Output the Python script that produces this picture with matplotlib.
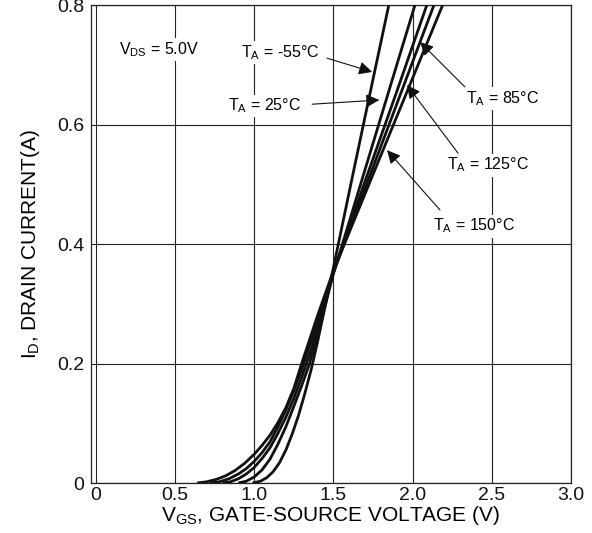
import matplotlib
matplotlib.use('Agg')
from matplotlib import pyplot as plt

plt.rcParams['font.family'] = ['Liberation Sans', 'DejaVu Sans']
plt.rcParams['mathtext.fontset'] = 'custom'
plt.rcParams['mathtext.rm'] = 'Liberation Sans'
plt.rcParams['mathtext.it'] = 'Liberation Sans'

# curves: V_GS (V) vs I_D (A)
v_m55 = [0.99, 1.04, 1.08, 1.12, 1.16, 1.20, 1.24, 1.28, 1.32, 1.36, 1.40, 1.45, 1.50, 1.60, 1.70, 1.85]
i_m55 = [0, 0.003, 0.009, 0.019, 0.034, 0.055, 0.082, 0.113, 0.150, 0.190, 0.236, 0.298, 0.360, 0.487, 0.613, 0.80]

v_25 = [0.90, 0.95, 1.00, 1.05, 1.10, 1.15, 1.20, 1.25, 1.30, 1.35, 1.40, 1.50, 1.60, 1.80, 2.015]
i_25 = [0, 0.003, 0.010, 0.022, 0.040, 0.065, 0.094, 0.128, 0.163, 0.200, 0.248, 0.350, 0.437, 0.612, 0.80]

v_85 = [0.80, 0.85, 0.90, 0.95, 1.00, 1.05, 1.10, 1.15, 1.20, 1.25, 1.30, 1.35, 1.40, 1.50, 1.70, 1.90, 2.09]
i_85 = [0, 0.002, 0.007, 0.015, 0.026, 0.041, 0.059, 0.083, 0.110, 0.141, 0.177, 0.215, 0.257, 0.352, 0.505, 0.655, 0.80]

v_125 = [0.72, 0.78, 0.84, 0.90, 0.95, 1.00, 1.05, 1.10, 1.15, 1.20, 1.25, 1.30, 1.40, 1.50, 1.70, 1.90, 2.135]
i_125 = [0, 0.002, 0.007, 0.015, 0.024, 0.036, 0.051, 0.069, 0.094, 0.122, 0.154, 0.190, 0.268, 0.352, 0.493, 0.634, 0.80]

v_150 = [0.64, 0.70, 0.76, 0.82, 0.88, 0.94, 1.00, 1.05, 1.10, 1.15, 1.20, 1.25, 1.30, 1.40, 1.50, 1.70, 1.90, 2.19]
i_150 = [0, 0.002, 0.006, 0.012, 0.021, 0.033, 0.048, 0.063, 0.080, 0.101, 0.126, 0.158, 0.200, 0.280, 0.355, 0.484, 0.613, 0.80]

x_ticks = [0, 0.5, 1.0, 1.5, 2.0, 2.5, 3.0]
x_labels = ['0', '0.5', '1.0', '1.5', '2.0', '2.5', '3.0']
y_ticks = [0, 0.2, 0.4, 0.6, 0.8]
y_labels = ['0', '0.2', '0.4', '0.6', '0.8']

fig = plt.figure(figsize=(5.92, 5.33), dpi=100)
ax = fig.add_axes([0.1537, 0.0938, 0.8108, 0.8968])

for v, i in [(v_m55, i_m55), (v_25, i_25), (v_85, i_85), (v_125, i_125), (v_150, i_150)]:
    ax.plot(v, i, color='#111111', lw=2.0, solid_capstyle='butt', zorder=3)

ax.set_xlim(-0.03, 3.0)
ax.set_ylim(0, 0.8)
ax.set_xticks(x_ticks)
ax.set_xticklabels(x_labels)
ax.set_yticks(y_ticks)
ax.set_yticklabels(y_labels)
ax.tick_params(length=0, labelsize=14, colors='#111111')
ax.tick_params(axis='x', pad=3)
ax.tick_params(axis='y', pad=5)
ax.grid(True, color='#222222', lw=0.8)
for s in ax.spines.values():
    s.set_linewidth(0.9)
    s.set_color('#222222')

ax.set_xlabel(r'V$_{\mathrm{GS}}$, GATE-SOURCE VOLTAGE (V)', fontsize=15, labelpad=0)
ax.set_ylabel(r'I$_{\mathrm{D}}$, DRAIN CURRENT(A)', fontsize=15, labelpad=11)

box = dict(facecolor='white', edgecolor='none', pad=1.5)
ax.text(0.147, 0.725, r'V$_{\mathrm{DS}}$ = 5.0V', fontsize=11.5, va='center', ha='left', bbox=box, zorder=4)

arrow = dict(arrowstyle='-|>', color='#111111', lw=0.8, mutation_scale=20, shrinkA=0, shrinkB=0)
notes = [
    (r'T$_{\mathrm{A}}$ = -55°C', (0.92, 0.72), (1.46, 0.711), (1.745, 0.688)),
    (r'T$_{\mathrm{A}}$ = 25°C', (0.835, 0.631), (1.366, 0.634), (1.79, 0.641)),
    (r'T$_{\mathrm{A}}$ = 85°C', (2.34, 0.644), (2.33, 0.663), (2.047, 0.738)),
    (r'T$_{\mathrm{A}}$ = 125°C', (2.22, 0.532), (2.287, 0.552), (1.965, 0.666)),
    (r'T$_{\mathrm{A}}$ = 150°C', (2.13, 0.43), (2.173, 0.457), (1.839, 0.557)),
]
for label, pos, tail, tip in notes:
    ax.text(pos[0], pos[1], label, fontsize=11.5, va='center', ha='left', bbox=box, zorder=4)
    ax.annotate('', xy=tip, xytext=tail, arrowprops=arrow, zorder=5)

fig.savefig('out.png', dpi=100)
